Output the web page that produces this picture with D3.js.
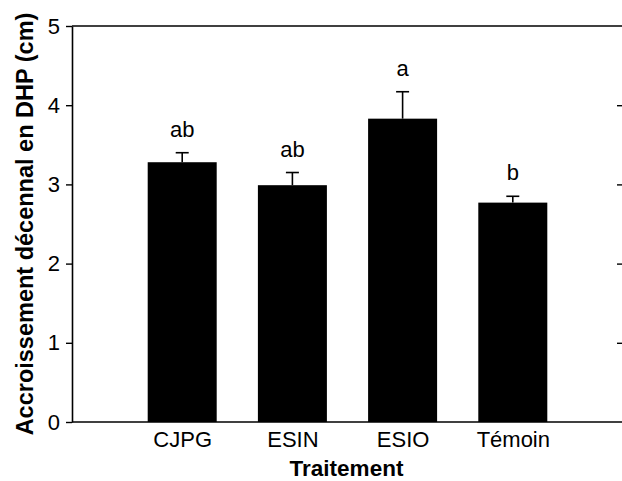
<!DOCTYPE html>
<html>
<head>
<meta charset="utf-8">
<script src="https://cdn.jsdelivr.net/npm/d3@7"></script>
<style>
  html, body { margin: 0; padding: 0; background: #fff; }
  svg { display: block; }
  text { font-family: "Liberation Sans", Arial, sans-serif; fill: #000; }
</style>
</head>
<body>
<svg id="chart" width="622" height="481"></svg>
<script>
// Ten-year DBH growth by treatment
const categories = ["CJPG", "ESIN", "ESIO", "Témoin"];
const means = [3.28, 2.99, 3.83, 2.77];
const stdErrors = [0.12, 0.16, 0.34, 0.08];
const groupLetters = ["ab", "ab", "a", "b"];
const yTicks = [0, 1, 2, 3, 4, 5];

const svg = d3.select("#chart");
const plotLeft = 72, plotRight = 623, plotTop = 26, plotBottom = 422;
const fontFamily = "'Liberation Sans', Arial, sans-serif";

const x = d3.scalePoint().domain(categories).range([plotLeft, plotRight]).padding(1);
const y = d3.scaleLinear().domain([0, 5]).range([plotBottom, plotTop]);
const barWidth = 69;

// frame: top line
svg.append("line").attr("x1", plotLeft).attr("x2", plotRight).attr("y1", plotTop).attr("y2", plotTop)
  .attr("stroke", "#000").attr("stroke-width", 1.6);

// left axis with outward ticks
const yAxis = svg.append("g").attr("transform", `translate(${plotLeft},0)`)
  .call(d3.axisLeft(y).tickValues(yTicks).tickSize(6).tickSizeOuter(0).tickPadding(6).tickFormat(d3.format("d")));
yAxis.select(".domain").attr("stroke-width", 1.6);
yAxis.selectAll(".tick line").attr("stroke-width", 1.4);
yAxis.selectAll(".tick text").attr("font-size", 22).style("font-family", fontFamily);

// right axis with inward ticks
const yAxisR = svg.append("g").attr("transform", `translate(${plotRight},0)`)
  .call(d3.axisLeft(y).tickValues(yTicks.filter(d => d > 0 && d < 5)).tickSize(6).tickSizeOuter(0).tickFormat(""));
yAxisR.selectAll(".tick line").attr("stroke-width", 1.4);

// bars
svg.append("g").selectAll("rect").data(categories).join("rect")
  .attr("x", d => x(d) - barWidth / 2)
  .attr("width", barWidth)
  .attr("y", (d, i) => y(means[i]))
  .attr("height", (d, i) => y(0) - y(means[i]))
  .attr("fill", "#000");

// error bars (upper half)
const err = svg.append("g").attr("stroke", "#000").attr("stroke-width", 1.6);
categories.forEach((c, i) => {
  const cx = x(c);
  err.append("line").attr("x1", cx).attr("x2", cx)
    .attr("y1", y(means[i])).attr("y2", y(means[i] + stdErrors[i]));
  err.append("line").attr("x1", cx - 6.5).attr("x2", cx + 6.5)
    .attr("y1", y(means[i] + stdErrors[i])).attr("y2", y(means[i] + stdErrors[i]));
});

// significance letters
svg.append("g").selectAll("text").data(categories).join("text")
  .attr("x", d => x(d))
  .attr("y", (d, i) => y(means[i] + stdErrors[i]) - 16)
  .attr("text-anchor", "middle")
  .attr("font-size", 22)
  .text((d, i) => groupLetters[i]);

// bottom axis
const xAxis = svg.append("g").attr("transform", `translate(0,${plotBottom})`)
  .call(d3.axisBottom(x).tickSize(0).tickSizeOuter(0).tickPadding(9));
xAxis.select(".domain").attr("stroke-width", 1.6).attr("d", `M${plotLeft},0H${plotRight}`);
xAxis.selectAll(".tick text").attr("font-size", 22).style("font-family", fontFamily);

// axis titles
svg.append("text")
  .attr("x", (plotLeft + plotRight) / 2 - 1)
  .attr("y", 476)
  .attr("text-anchor", "middle")
  .attr("font-size", 22.5)
  .attr("font-weight", "bold")
  .text("Traitement");

svg.append("text")
  .attr("transform", `translate(33,${(plotTop + plotBottom) / 2}) rotate(-90)`)
  .attr("text-anchor", "middle")
  .attr("font-size", 23.5)
  .attr("font-weight", "bold")
  .text("Accroissement décennal en DHP (cm)");
</script>
</body>
</html>
